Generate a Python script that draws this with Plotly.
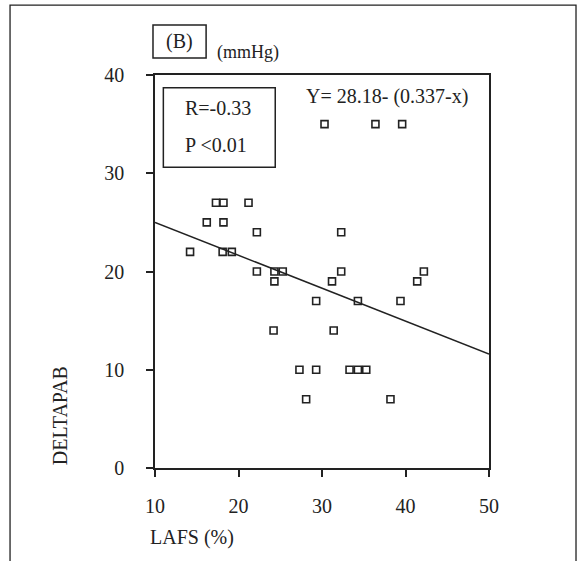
import plotly.graph_objects as go

# Data
lafs = [14.2, 16.2, 17.3, 18.2, 18.2, 18.1, 19.2, 21.2, 22.2, 22.2, 24.3, 25.3,
        24.3, 24.2, 27.3, 28.1, 29.3, 29.3, 30.3, 31.2, 31.4, 32.3, 32.3, 33.3,
        34.3, 35.3, 34.3, 36.4, 38.2, 39.4, 39.6, 41.4, 42.2]
deltapab = [22, 25, 27, 27, 25, 22, 22, 27, 24, 20, 20, 20,
            19, 14, 10, 7, 17, 10, 35, 19, 14, 24, 20, 10,
            10, 10, 17, 35, 7, 17, 35, 19, 20]
line_x = [10, 50]
line_y = [25.0, 11.6]
x_ticks = [10, 20, 30, 40, 50]
y_ticks = [0, 10, 20, 30, 40]

FONT = "Liberation Serif"
INK = "#222222"
FS = 20

fig = go.Figure()
fig.add_trace(go.Scatter(x=line_x, y=line_y, mode="lines",
                         line=dict(color=INK, width=1.5), showlegend=False,
                         hoverinfo="skip"))
fig.add_trace(go.Scatter(x=lafs, y=deltapab, mode="markers",
                         marker=dict(symbol="square-open", size=7,
                                     color=INK, line=dict(color=INK, width=1.6)),
                         showlegend=False))

axis_common = dict(showline=True, linecolor=INK, linewidth=1.5, mirror=True,
                   ticks="outside", ticklen=7, tickwidth=1.5, tickcolor=INK,
                   showgrid=False, zeroline=False,
                   tickfont=dict(family=FONT, size=FS, color=INK))

fig.update_xaxes(range=[10, 50], tickvals=x_ticks,
                 ticktext=[str(v) for v in x_ticks], ticklabelstandoff=12,
                 **axis_common)
fig.update_yaxes(range=[0, 40], tickvals=y_ticks,
                 ticktext=[str(v) for v in y_ticks], ticklabelstandoff=18,
                 **axis_common)

shapes = [
    # R / P box (data coords)
    dict(type="rect", xref="x", yref="y", x0=11.0, x1=24.4, y0=30.6, y1=38.7,
         line=dict(color=INK, width=1.5)),
    # (B) box (paper coords)
    dict(type="rect", xref="paper", yref="paper", x0=-0.006, x1=0.153,
         y0=1.043, y1=1.127, line=dict(color=INK, width=1.5)),
    # outer figure frame
    dict(type="path", xref="paper", yref="paper",
         path="M -0.434,-0.25 L -0.434,1.178 L 1.2605,1.178 L 1.2605,-0.25",
         line=dict(color=INK, width=1.3)),
]

tf = dict(family=FONT, size=FS, color=INK)
annotations = [
    dict(text="R=-0.33", x=17.6, y=36.6, xref="x", yref="y",
         showarrow=False, font=tf),
    dict(text="P <0.01", x=17.3, y=32.9, xref="x", yref="y",
         showarrow=False, font=tf),
    dict(text="Y= 28.18- (0.337-x)", x=37.8, y=37.8, xref="x", yref="y",
         showarrow=False, font=tf),
    dict(text="(B)", x=0.072, y=1.084, xref="paper", yref="paper",
         xanchor="center", yanchor="middle", showarrow=False, font=tf),
    dict(text="(mmHg)", x=0.278, y=1.0585, xref="paper", yref="paper",
         xanchor="center", yanchor="middle", showarrow=False,
         font=dict(family=FONT, size=18, color=INK)),
    dict(text="LAFS (%)", x=-0.021, y=-0.1756, xref="paper", yref="paper",
         xanchor="left", yanchor="middle", showarrow=False, font=tf),
    dict(text="DELTAPAB", x=-0.284, y=0.132, xref="paper", yref="paper",
         xanchor="center", yanchor="middle",
         textangle=-90, showarrow=False, font=tf),
]

fig.update_layout(
    width=579, height=561,
    margin=dict(l=155, r=90, t=75, b=93),
    paper_bgcolor="white", plot_bgcolor="white",
    shapes=shapes, annotations=annotations,
)

fig.write_html("out.html",
               config={"displayModeBar": False},
               post_script="document.body.style.margin='0';"
                           "document.body.style.overflow='hidden';")
